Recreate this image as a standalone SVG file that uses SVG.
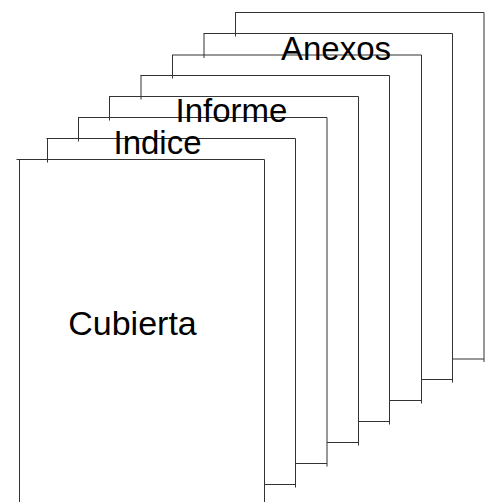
<svg xmlns="http://www.w3.org/2000/svg" width="487" height="502" viewBox="0 0 487 502">
<style>
.pg{fill:none;stroke:#333;stroke-width:1}
.lb{font-family:"Liberation Sans",Arial,sans-serif;font-size:33px;fill:#000;text-anchor:middle}
</style>
<rect width="487" height="502" fill="#fff"/>
<g id="page8"><path class="pg" d="M235,12.5H484V362M452.5,359H484M235.5,12.5V36.5"/></g>
<g id="page7"><path class="pg" d="M203.5,33.5H452.5V382.5M421.5,379.5H452.5M204,33.5V58"/></g>
<g id="page6"><path class="pg" d="M172,55H421.5V403.5M389.5,400.5H421.5M172.5,55V78.5"/>
<text class="lb" x="336" y="59.5">Anexos</text></g>
<g id="page5"><path class="pg" d="M140.5,75.5H389.5V424.5M358.5,421.5H389.5M141,75.5V99.5"/></g>
<g id="page4"><path class="pg" d="M109,96.5H358.5V445.5M327,442.5H358.5M109.5,96.5V120.5"/></g>
<g id="page3"><path class="pg" d="M78,117.5H327V466.5M295.5,463.5H327M78.5,117.5V141.5"/>
<text class="lb" x="231.5" y="121.5">Informe</text></g>
<g id="page2"><path class="pg" d="M46.5,138.5H295.5V487.5M264.5,484.5H295.5M47.5,138.5V162.5"/>
<text class="lb" x="157.5" y="153.5">Indice</text></g>
<g id="page1"><path class="pg" d="M16.5,159.5H264.5V502M19.5,159.5V502"/>
<text class="lb" x="132.5" y="334.5" style="font-size:34px">Cubierta</text></g>
</svg>
